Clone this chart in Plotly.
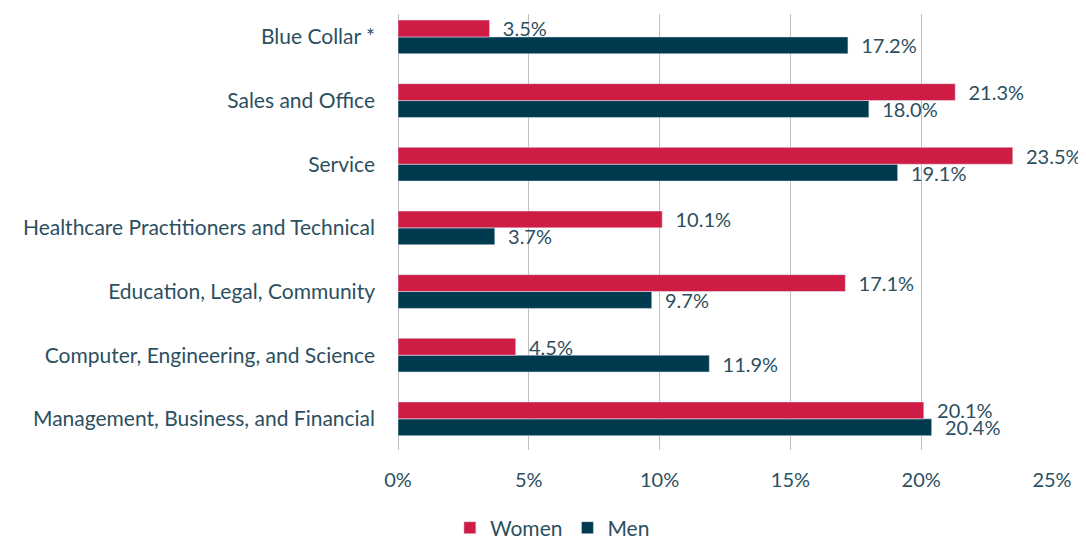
import plotly.graph_objects as go

categories = [
    "Management, Business, and Financial",
    "Computer, Engineering, and Science",
    "Education, Legal, Community",
    "Healthcare Practitioners and Technical",
    "Service",
    "Sales and Office",
    "Blue Collar *",
]
women = [20.1, 4.5, 17.1, 10.1, 23.5, 21.3, 3.5]
men = [20.4, 11.9, 9.7, 3.7, 19.1, 18.0, 17.2]

TEXT = "#2C4F5F"
FONT = "Lato"

fig = go.Figure()
# Men first so Women sits on top within each group
fig.add_trace(go.Bar(
    y=categories, x=men, name="Men", orientation="h",
    marker=dict(color="#003A4F"),
    texttemplate="  %{x:.1f}%", textposition="outside",
    textfont=dict(color=TEXT, size=20, family=FONT),
    cliponaxis=False, constraintext="none",
))
fig.add_trace(go.Bar(
    y=categories, x=women, name="Women", orientation="h",
    marker=dict(color="#CE1C45"),
    texttemplate="  %{x:.1f}%", textposition="outside",
    textfont=dict(color=TEXT, size=20, family=FONT),
    cliponaxis=False, constraintext="none",
))

# page body adds an 8px offset, so the figure is 8px smaller
fig.update_layout(
    width=1078, height=534,
    margin=dict(l=390, r=34, t=6, b=92, autoexpand=False),
    barmode="group", bargap=0.47, bargroupgap=0,
    plot_bgcolor="white", paper_bgcolor="white",
    font=dict(family=FONT, size=20, color=TEXT),
    legend=dict(
        orientation="h", traceorder="reversed",
        xref="container", yref="paper",
        x=0.505, xanchor="center", y=-0.179, yanchor="middle",
        font=dict(size=21, color=TEXT),
    ),
)
fig.update_xaxes(
    range=[0, 25], dtick=5, ticksuffix="%", automargin=False,
    showgrid=True, gridcolor="#BFBFBF", gridwidth=1,
    zeroline=True, zerolinecolor="#BFBFBF", zerolinewidth=1,
    ticklabelstandoff=16, tickfont=dict(size=20, color=TEXT),
)
fig.update_yaxes(
    range=[-0.49, 6.36], automargin=False,
    showgrid=False, ticklabelstandoff=22,
    tickfont=dict(size=21, color=TEXT),
)

fig.write_html("out.html")
